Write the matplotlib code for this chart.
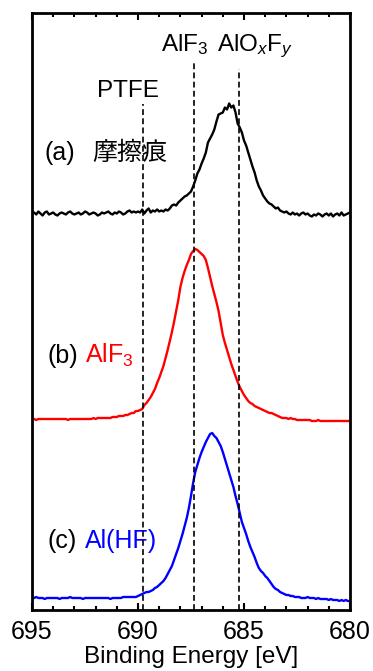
import numpy as np
import matplotlib
matplotlib.use('Agg')
import matplotlib.pyplot as plt

plt.rcParams['font.family'] = ['Liberation Sans', 'Noto Sans CJK JP']
plt.rcParams['mathtext.fontset'] = 'custom'
plt.rcParams['mathtext.rm'] = 'Liberation Sans'
plt.rcParams['mathtext.it'] = 'Liberation Sans:italic'

# binding energy grid, 0.1 eV steps from 695 down to 680 eV
energy = np.linspace(695.0, 680.0, 151)

# (a) wear track, background subtracted (a.u.)
wear = [
    0, 1, -1, 2, 0, -2, 1, 2, -1, 0,
    1, -1, -2, 0, 1, 0, -1, 1, 2, 0,
    -1, 0, 1, -1, 0, 2, 1, -1, 0, 1,
    0, -2, -1, 1, 0, 1, 2, 0, -1, 1,
    0, 2, 1, -1, 0, 2, 3, 1, 2, 1,
    2,
    1, 4, 0, 3, 5, 1, 3, 2, 4, 2,
    3, 2, 4, 3, 5, 8, 9, 8, 11, 13,
    15, 17, 18, 20, 22, 27, 33, 40, 44, 50,
    55, 61, 71, 75, 79, 84, 92, 99, 100, 101,
    106, 104, 110, 106, 108, 101, 90, 86, 81, 73,
    68, 61, 54, 47, 41, 33, 27, 23, 18, 15,
    12, 10, 9, 7, 5, 6, 3, 2, 1, 2,
    0, -1, 1, -1, 0, -2, 0, 1, -1, 0,
    -2, -3, -1, -2, 0, -1, -3, -1, 0, -2,
    0, -3, -1, 0, -2, 1, -2, -1, 0, 1,
]

# (b) AlF3 reference
alf3 = [
    0, 0, -1, 0, 0, 0, 0, 0, 0, 0,
    0, 0, 0, 0, 0, 0, 0, -1, 0, 0,
    0, 0, 0, 0, 0, 0, 0, 0, 0, 1,
    0, 1, 1, 1, 1, 1,
    1, 1, 2, 2, 2, 3, 3, 3, 4, 4,
    5, 6, 6, 8, 8, 9, 10, 14, 16, 19,
    22, 26, 30, 36, 41, 47, 53, 61, 69, 78,
    87, 97, 108, 119, 132, 141, 148, 154, 159, 165,
    168, 170, 169, 167, 165, 163, 159, 151, 142, 133,
    125, 117, 108, 96, 84, 76, 69, 62, 55, 49,
    43, 37, 32, 28, 24, 21, 18, 16, 15, 13,
    12, 11, 10, 9, 8, 7, 6, 6, 5, 4,
    3, 2, 1, 1, 1,
    0, 1, 0, 0, -1, -1, -1, -1, -1, -1,
    -1, -2, -2, -2, -1, -2, -2, -2, -2, -2,
    -2, -2, -2, -2, -2, -2, -2, -2, -2, -2,
]

# (c) Al treated with HF
al_hf = [
    0, 0, 1, 0, 0, 0, -1, 0, 0, 0,
    0, 0, 0, -1, 0, 0, 0, 0, 1, 0,
    0, 0, 0, 0, -1, 0, 0, 0, 0, 0,
    0, 0, 0, 0, 0, 0, 0, -1, 0, 0,
    0,
    0, 0, 1, 1, 1, 1, 1, 1, 1, 2,
    3, 4, 5, 6, 6, 7, 8, 10, 11, 13,
    15, 17, 20, 24, 28, 32, 38, 44, 50, 57,
    64, 72, 80, 90, 102, 115, 126, 133, 140, 146,
    151, 156, 160, 164, 165, 162, 160, 156, 152, 146,
    139, 132, 125, 118, 111, 102, 94, 85, 76, 70,
    64, 57, 51, 46, 41, 35, 30, 27, 25, 22,
    20, 17, 14, 11, 9, 8, 6, 5, 4, 3,
    3, 2, 2, 1, 1, 1, 0,
    0, 0, 1, 0, 0, 0, -1, 0, -1, -1,
    -1, -1, -2, -1, -2, -2, -2, -3, -2, -3,
    -2, -3, -3,
]

ref_names = ['PTFE', 'AlF$_3$', 'AlO$_x$F$_y$']
ref_energy = [689.75, 687.35, 685.25]

fig = plt.figure(figsize=(3.73, 6.71), dpi=100)
ax = fig.add_axes([32 / 373, 61 / 671, 318 / 373, 597 / 671])

# stacked spectra
ax.plot(energy, np.array(wear) + 396.5, color='black', lw=1.7)
ax.plot(energy, np.array(alf3) + 191, color='red', lw=1.7)
ax.plot(energy, np.array(al_hf) + 12, color='blue', lw=1.7)

# reference positions
tops = [506, 550, 541]
for e, top in zip(ref_energy, tops):
    ax.plot([e, e], [0, top], color='black', lw=1.2, dashes=(3.5, 2.0))

fs = 17.5
ax.text(691.93, 513, ref_names[0], fontsize=fs, va='baseline')
ax.text(688.92, 559, ref_names[1], fontsize=fs, va='baseline')
ax.text(686.27, 559, ref_names[2], fontsize=fs, va='baseline')

ax.text(694.39, 450, '(a)', fontsize=18, va='baseline')
ax.text(692.15, 450, '摩擦痕', fontsize=18, va='baseline')
ax.text(694.29, 247, '(b)', fontsize=18, va='baseline')
ax.text(692.5, 247, 'AlF$_3$', fontsize=18, va='baseline', color='red')
ax.text(694.25, 62, '(c)', fontsize=18, va='baseline')
ax.text(692.5, 62, 'Al(HF)', fontsize=18, va='baseline', color='blue')

ax.set_xlim(695, 680)
ax.set_ylim(0, 597)
ax.set_xticks([695, 690, 685, 680])
ax.set_xticks(np.arange(680, 696, 1), minor=True)
ax.set_yticks([])
ax.tick_params(axis='x', which='both', direction='in', top=True, bottom=True,
               labelsize=18, pad=7, width=1.5)
ax.tick_params(axis='x', which='major', length=5)
ax.tick_params(axis='x', which='minor', length=3)
for s in ax.spines.values():
    s.set_linewidth(2.0)

ax.set_xlabel('Binding Energy [eV]', fontsize=fs)
ax.xaxis.set_label_coords(0.5, -0.061)

fig.savefig('out.png', dpi=100)
